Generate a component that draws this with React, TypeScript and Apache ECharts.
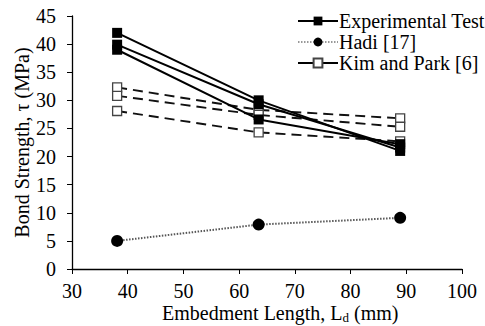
import React, { useEffect, useRef } from "react";
import * as echarts from "echarts";

const lengths = [38.1, 63.5, 88.9];
const exp1 = [42.0, 30.0, 21.0];
const exp2 = [39.9, 29.3, 21.6];
const exp3 = [39.0, 26.6, 22.2];
const hadi = [5.0, 7.9, 9.1];
const kim1 = [32.3, 28.3, 26.8];
const kim2 = [30.8, 27.4, 25.3];
const kim3 = [28.1, 24.3, 22.7];
const xTicks = [30, 40, 50, 60, 70, 80, 90, 100];
const yTicks = [0, 5, 10, 15, 20, 25, 30, 35, 40, 45];

const FONT = "'Liberation Serif', 'Times New Roman', serif";

const pair = (ys: number[]) => lengths.map((x, i) => [x, ys[i]]);

export default function App() {
  const ref = useRef<HTMLDivElement>(null);
  useEffect(() => {
    if (!ref.current) return;
    const chart = echarts.init(ref.current, null, { renderer: "svg" });
    const expSeries = [exp1, exp2, exp3].map((d) => ({
      name: "Experimental Test",
      type: "line",
      data: pair(d),
      symbol: "rect",
      symbolSize: 10,
      itemStyle: { color: "#000" },
      lineStyle: { color: "#000", width: 2 },
      z: 3,
    }));
    const kimSeries = [kim1, kim2, kim3].map((d) => ({
      name: "Kim and Park [6]",
      type: "line",
      data: pair(d),
      symbol: "rect",
      symbolSize: 9,
      itemStyle: { color: "#fff", borderColor: "#444", borderWidth: 1.3 },
      lineStyle: { color: "#111", width: 1.9, type: [10, 6] },
      z: 2,
    }));
    const hadiSeries = {
      name: "Hadi [17]",
      type: "line",
      data: pair(hadi),
      symbol: "circle",
      symbolSize: 12,
      itemStyle: { color: "#000" },
      lineStyle: { color: "#555", width: 2, type: [1.5, 1.5] },
      z: 2,
    };
    chart.setOption({
      animation: false,
      grid: { left: 72, right: 23, top: 16, bottom: 57 },
      legend: {
        orient: "vertical",
        left: 292,
        top: 6,
        itemWidth: 40,
        itemHeight: 11,
        itemGap: 1,
        textStyle: { fontFamily: FONT, fontSize: 20, color: "#000", padding: [0, 0, 0, -4] },
        data: [
          { name: "Experimental Test", lineStyle: { type: "solid", color: "#000", width: 2 } },
          { name: "Hadi [17]", lineStyle: { type: [1.5, 1.5], color: "#777", width: 1.4 } },
          { name: "Kim and Park [6]", lineStyle: { type: "solid", color: "#000", width: 2 } },
        ],
      },
      xAxis: {
        type: "value",
        min: xTicks[0],
        max: xTicks[xTicks.length - 1],
        interval: 10,
        axisLine: { show: true, lineStyle: { color: "#000", width: 1.3 } },
        axisTick: { show: true, length: 5, lineStyle: { color: "#000" } },
        splitLine: { show: false },
        axisLabel: { fontFamily: FONT, fontSize: 20, color: "#000", margin: 12 },
      },
      yAxis: {
        type: "value",
        min: yTicks[0],
        max: yTicks[yTicks.length - 1],
        interval: 5,
        axisLine: { show: true, lineStyle: { color: "#000", width: 1.3 } },
        axisTick: { show: true, length: 5, lineStyle: { color: "#000" } },
        splitLine: { show: false },
        axisLabel: { fontFamily: FONT, fontSize: 20, color: "#000", margin: 16 },
        name: "Bond Strength, τ (MPa)",
        nameLocation: "middle",
        nameGap: 40,
        nameMoveOverlap: false,
        nameTextStyle: { fontFamily: FONT, fontSize: 20, color: "#000" },
      },
      graphic: [
        {
          type: "text",
          left: 162,
          top: 303,
          style: {
            text: "Embedment Length, L{sub|d} (mm)",
            font: `20px ${FONT}`,
            fill: "#000",
            rich: {
              sub: { fontFamily: FONT, fontSize: 13, fill: "#000", padding: [9, 0, 0, 0] },
            },
          },
        },
      ],
      series: [...expSeries, hadiSeries, ...kimSeries],
    });
    return () => chart.dispose();
  }, []);
  return <div ref={ref} style={{ width: 485, height: 326, position: "absolute", left: 0, top: 0 }} />;
}
